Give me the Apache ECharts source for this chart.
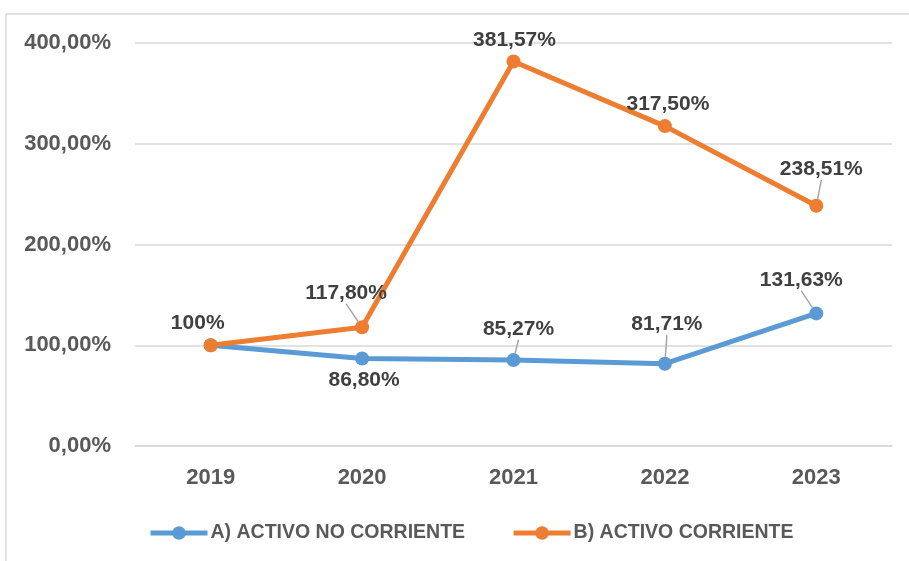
<!DOCTYPE html>
<html><head><meta charset="utf-8">
<script src="https://cdn.jsdelivr.net/npm/echarts@6/dist/echarts.min.js"></script>
<style>html,body{margin:0;padding:0;background:#fff}#c{width:909px;height:561px}</style>
</head><body><div id="c"></div>
<script>
const categories = ['2019','2020','2021','2022','2023'];
const seriesNames = ['A) ACTIVO NO CORRIENTE','B) ACTIVO CORRIENTE'];
const activoNoCorriente = [100, 86.80, 85.27, 81.71, 131.63];
const activoCorriente = [100, 117.80, 381.57, 317.50, 238.51];
const yTicks = [0, 100, 200, 300, 400];

// label placement (style, not data): [dx, dy, showLine, showLabel]
const labelPlaceA = [[-13,-22,false,true],[2,22,false,true],[5,-31,true,true],[2,-39,true,true],[-15,-33,true,true]];
const labelPlaceB = [[0,0,false,false],[-16,-34,true,true],[1,-21,false,true],[3,-22,false,true],[5,-36,true,true]];

function fmt(v){
  if (v === 100) return '100%';
  return v.toFixed(2).replace('.', ',') + '%';
}
function buildData(vals, place){
  return vals.map((v,i)=>({
    value: v,
    label: {show: place[i][3]},
    labelLine: {show: place[i][2]}
  }));
}
const FONT = '"Liberation Sans", Arial, sans-serif';
const chart = echarts.init(document.getElementById('c'), null, {renderer:'canvas'});
function mkSeries(name, vals, place, color){
  return {
    name: name, type: 'line', data: buildData(vals, place),
    symbol: 'circle', symbolSize: 14,
    lineStyle: {color: color, width: 5},
    itemStyle: {color: color},
    label: {show: true, position: 'inside', formatter: p => fmt(p.value),
      color: '#404040', fontFamily: FONT, fontWeight: 'bold', fontSize: 21},
    labelLine: {show: false, lineStyle: {color: '#A6A6A6', width: 1.5}},
    labelLayout: function(p){ const pl = place[p.dataIndex]; return {dx: pl[0], dy: pl[1]}; },
    emphasis: {disabled: true},
    animation: false
  };
}
chart.setOption({
  animation: false,
  graphic: [{type:'rect', shape:{x:6, y:14, width:920, height:570}, style:{fill:'none', stroke:'#D9D9D9', lineWidth:1.5}, silent:true}],
  grid: {left: 135, right: 17, top: 43, bottom: 115},
  legend: {
    bottom: 13, left: 143, itemWidth: 57, itemHeight: 17, itemGap: 46,
    lineStyle: {width: 5},
    textStyle: {color: '#595959', fontFamily: FONT, fontWeight: 'bold', fontSize: 19.5, padding:[0,0,0,-2]},
    data: seriesNames
  },
  xAxis: {
    type: 'category', data: categories, boundaryGap: true,
    axisLine: {show: true, lineStyle: {color: '#D9D9D9', width: 1.5}},
    axisTick: {show: false},
    axisLabel: {color: '#595959', fontFamily: FONT, fontWeight: 'bold', fontSize: 22, margin: 21}
  },
  yAxis: {
    type: 'value', min: yTicks[0], max: yTicks[yTicks.length-1], interval: 100,
    axisLine: {show: false}, axisTick: {show: false},
    splitLine: {lineStyle: {color: '#D9D9D9', width: 1.5}},
    axisLabel: {color: '#595959', fontFamily: FONT, fontWeight: 'bold', fontSize: 22, margin: 24,
      formatter: v => v.toFixed(2).replace('.', ',') + '%'}
  },
  series: [
    mkSeries(seriesNames[0], activoNoCorriente, labelPlaceA, '#5B9BD5'),
    mkSeries(seriesNames[1], activoCorriente, labelPlaceB, '#ED7D31')
  ]
});
</script></body></html>
